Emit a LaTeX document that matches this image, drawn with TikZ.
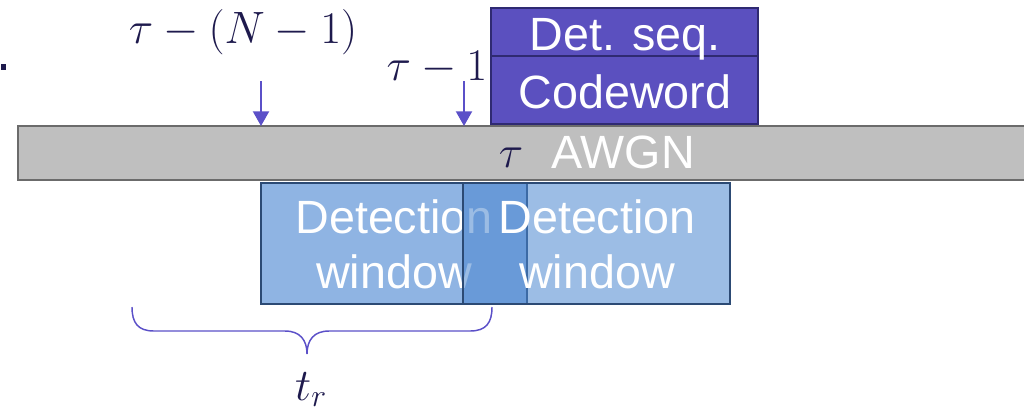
\documentclass[tikz,border=0pt]{standalone}
\usepackage{fix-cm}
\usepackage[no-math]{fontspec}
\setmainfont{Liberation Sans}
\usetikzlibrary{arrows.meta,calc}

\definecolor{seqfill}{HTML}{5B50BF}
\definecolor{seqline}{HTML}{2F2A72}
\definecolor{accent}{HTML}{5B50C8}
\definecolor{mathink}{HTML}{1E1A4D}
\definecolor{chanfill}{HTML}{BFBFBF}
\definecolor{chanline}{HTML}{6B6B6B}
\definecolor{winfill}{HTML}{8FB4E3}
\definecolor{winoverlay}{HTML}{4A86CF}
\definecolor{winline}{HTML}{2C4A74}

\def\px{0.75pt}

\tikzset{
  block/.style={rectangle, inner sep=0pt, outer sep=0pt, anchor=north west},
  seqbox/.style={block, fill=seqfill, draw=seqline, line width=1.6pt},
  chanbox/.style={block, fill=chanfill, draw=chanline, line width=1.7pt},
  winbox/.style={block, draw=winline, line width=2pt},
  label/.style={inner sep=0pt, anchor=base, text=white,
    font=\fontsize{35}{42}\selectfont},
  mathlabel/.style={inner sep=0pt, anchor=base, text=mathink,
    font=\fontsize{34}{40}\selectfont},
  marker/.style={draw=accent, line width=1.5pt,
    -{Triangle[width=12pt,length=11pt]}},
  bracket/.style={draw=accent, line width=1.1pt},
}

\begin{document}
\begin{tikzpicture}[x=0.75pt, y=-0.75pt]
\clip (0,0) rectangle (1024,412);

% channel bar (runs off the right edge)
\node[chanbox, minimum width=1030*\px, minimum height=54*\px] (bar) at (18,126) {};
\node[mathlabel] (tau) at (511,167) {$\tau$};
\node[label] (awgn) at (623,168) {AWGN};

% detection sequence and codeword
\node[seqbox, minimum width=267*\px, minimum height=48*\px] (det) at (491,8) {};
\node[seqbox, minimum width=267*\px, minimum height=68*\px] (cw) at (491,56) {};
\node[label] (dettxt) at (625,50) {Det. seq.};
\node[label] (cwtxt) at (625,108) {Codeword};

% first detection window
\node[winbox, fill=winfill, minimum width=266*\px, minimum height=121*\px] (win1) at (261,183) {};
\node[label] (w1a) at (394,233) {Detection};
\node[label] (w1b) at (394,288) {window};

% second detection window, overlapping the first
\node[winbox, fill=winoverlay, fill opacity=0.55, minimum width=267*\px, minimum height=121*\px] (win2) at (463,183) {};
\node[label] (w2a) at (597,233) {Detection};
\node[label] (w2b) at (597,288) {window};

% time markers
\coordinate (m1) at (261,81);
\coordinate (m2) at (464,81);
\draw[marker] (m1) -- (m1 |- bar.north);
\draw[marker] (m2) -- (m2 |- bar.north);
\node[mathlabel] (lblN) at (243,43) {$\tau-(N-1)$};
\node[mathlabel] (lbl1) at (437,80) {$\tau-1$};

% brace spanning t_r
\coordinate (bl) at (132,307);
\coordinate (br) at (492,307);
\coordinate (bt) at (307,354);
\draw[bracket] (bl) .. controls ($(bl)+(0,16)$) and ($(bl)+(6,24)$) .. ($(bl)+(22,24)$)
  -- ($(bt)+(-22,-23)$) .. controls ($(bt)+(-7,-23)$) and ($(bt)+(0,-14)$) .. (bt)
  .. controls ($(bt)+(0,-14)$) and ($(bt)+(7,-23)$) .. ($(bt)+(22,-23)$)
  -- ($(br)+(-22,24)$) .. controls ($(br)+(-6,24)$) and ($(br)+(0,16)$) .. (br);
\node[mathlabel] (tr) at (311,400) {$t_r$};

% stray full stop at the left edge
\fill[mathink] (1,64) rectangle (6,70);
\end{tikzpicture}
\end{document}
